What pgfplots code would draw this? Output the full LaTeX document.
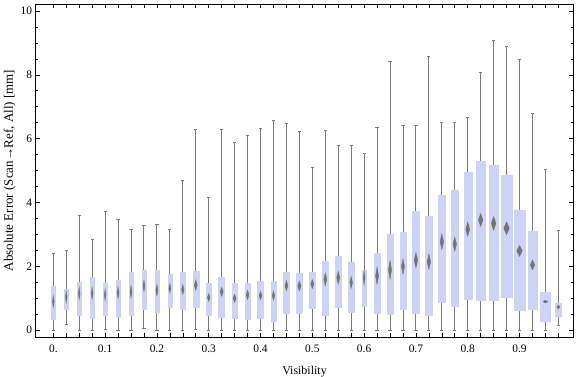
\documentclass[border=0pt]{standalone}
\usepackage{fontspec}
\setmainfont{Liberation Serif}
\usepackage{pgfplots}
\pgfplotsset{compat=1.18}
\usepgfplotslibrary{statistics}
\definecolor{boxc}{RGB}{204,211,245}
\definecolor{whc}{RGB}{122,122,122}
\definecolor{medc}{RGB}{115,115,115}
\pgfplotsset{boxplot/notch/.initial=0.1}
\newcommand{\bx}[8]{\addplot[boxplot prepared={draw position=#1, box extend=#2, lower whisker=#3, lower quartile=#4, median=#5, upper quartile=#6, upper whisker=#7}, boxplot/notch=#8] coordinates {};}
\begin{document}
\begin{tikzpicture}
\begin{axis}[
  scale only axis, width=538bp, height=333bp,
  xmin=-0.0344, xmax=1.0042, ymin=-0.219, ymax=10.22,
  axis line style={line width=0.8bp},
  tick align=inside, tick style={black, line width=0.6bp},
  major tick length=4.5bp, minor tick length=2.5bp,
  xtick={0,0.025,0.05,0.075,0.1,0.125,0.15,0.175,0.2,0.225,0.25,0.275,0.3,0.325,0.35,0.375,0.4,0.425,0.45,0.475,0.5,0.525,0.55,0.575,0.6,0.625,0.65,0.675,0.7,0.725,0.75,0.775,0.8,0.825,0.85,0.875,0.9,0.925,0.95,0.975},
  xticklabels={0.,,,,0.1,,,,0.2,,,,0.3,,,,0.4,,,,0.5,,,,0.6,,,,0.7,,,,0.8,,,,0.9,,,},
  ytick={0,2,4,6,8,10}, minor y tick num=3,
  /pgf/number format/assume math mode=true,
  tick label style={font=\fontsize{11.5}{13}\selectfont},
  xticklabel style={yshift=-4bp},
  xlabel style={font=\fontsize{12}{14}\selectfont, yshift=-7bp},
  ylabel style={font=\fontsize{13}{15}\selectfont, yshift=-2bp},
  xlabel={Visibility},
  ylabel={Absolute Error (Scan→Ref, All) [mm]},
  boxplot/draw direction=y,
  boxplot/whisker extend=0.0062,
  boxplot/draw/box/.code={\fill[boxc] (boxplot box cs:\pgfplotsboxplotvalue{lower quartile},0) rectangle (boxplot box cs:\pgfplotsboxplotvalue{upper quartile},1);},
  boxplot/draw/lower whisker/.code={\draw[whc, line width=0.95bp] (boxplot box cs:\pgfplotsboxplotvalue{lower quartile},0.5) -- (boxplot box cs:\pgfplotsboxplotvalue{lower whisker},0.5);
    \draw[whc, line width=0.95bp] (boxplot whisker cs:\pgfplotsboxplotvalue{lower whisker},0) -- (boxplot whisker cs:\pgfplotsboxplotvalue{lower whisker},1);},
  boxplot/draw/upper whisker/.code={\draw[whc, line width=0.95bp] (boxplot box cs:\pgfplotsboxplotvalue{upper quartile},0.5) -- (boxplot box cs:\pgfplotsboxplotvalue{upper whisker},0.5);
    \draw[whc, line width=0.95bp] (boxplot whisker cs:\pgfplotsboxplotvalue{upper whisker},0) -- (boxplot whisker cs:\pgfplotsboxplotvalue{upper whisker},1);},
  boxplot/draw/median/.code={%
    \pgfmathsetmacro\mlo{\pgfplotsboxplotvalue{median}-\pgfkeysvalueof{/pgfplots/boxplot/notch}}%
    \pgfmathsetmacro\mhi{\pgfplotsboxplotvalue{median}+\pgfkeysvalueof{/pgfplots/boxplot/notch}}%
    \fill[medc] (boxplot box cs:\mlo,0.5) -- (boxplot box cs:\pgfplotsboxplotvalue{median},0.25) -- (boxplot box cs:\mhi,0.5) -- (boxplot box cs:\pgfplotsboxplotvalue{median},0.75) -- cycle;},
]
\bx{0}{0.0064}{0}{0.33}{0.89}{1.38}{2.40}{0.18}
\bx{0.025}{0.0064}{0.16}{0.65}{1.04}{1.29}{2.48}{0.18}
\bx{0.05}{0.0064}{0}{0.46}{1.15}{1.50}{3.59}{0.19}
\bx{0.075}{0.0071}{0}{0.38}{1.15}{1.64}{2.85}{0.19}
\bx{0.1}{0.0064}{0.02}{0.46}{1.10}{1.47}{3.73}{0.18}
\bx{0.125}{0.0077}{0}{0.39}{1.17}{1.57}{3.45}{0.18}
\bx{0.15}{0.0071}{0}{0.48}{1.20}{1.82}{3.16}{0.19}
\bx{0.175}{0.0077}{0.05}{0.64}{1.39}{1.87}{3.28}{0.18}
\bx{0.2}{0.0083}{0}{0.57}{1.25}{1.88}{3.31}{0.18}
\bx{0.225}{0.0077}{0}{0.73}{1.31}{1.76}{3.16}{0.15}
\bx{0.25}{0.0097}{0}{0.64}{1.27}{1.82}{4.69}{0.15}
\bx{0.275}{0.0116}{0.02}{0.70}{1.41}{1.85}{6.30}{0.16}
\bx{0.3}{0.0102}{0}{0.46}{1.02}{1.46}{4.16}{0.12}
\bx{0.325}{0.0116}{0}{0.40}{1.20}{1.64}{6.30}{0.14}
\bx{0.35}{0.0110}{0}{0.36}{0.99}{1.46}{5.88}{0.13}
\bx{0.375}{0.0102}{0}{0.33}{1.10}{1.46}{6.10}{0.15}
\bx{0.4}{0.0110}{0}{0.37}{1.08}{1.53}{6.32}{0.13}
\bx{0.425}{0.0097}{0}{0.29}{1.08}{1.54}{6.57}{0.14}
\bx{0.45}{0.0110}{0}{0.52}{1.39}{1.81}{6.48}{0.16}
\bx{0.475}{0.0122}{0}{0.52}{1.38}{1.78}{6.23}{0.15}
\bx{0.5}{0.0116}{0}{0.67}{1.44}{1.81}{5.10}{0.14}
\bx{0.525}{0.0116}{0}{0.48}{1.59}{2.16}{6.26}{0.20}
\bx{0.55}{0.0116}{0}{0.71}{1.64}{2.32}{5.79}{0.20}
\bx{0.575}{0.0102}{0}{0.55}{1.49}{2.13}{5.79}{0.19}
\bx{0.6}{0.0071}{0}{0.76}{1.64}{1.88}{5.54}{0.23}
\bx{0.625}{0.0116}{0}{0.54}{1.70}{2.41}{6.35}{0.27}
\bx{0.65}{0.0120}{0}{0.51}{1.89}{3.01}{8.42}{0.29}
\bx{0.675}{0.0116}{0}{0.64}{1.99}{3.08}{6.42}{0.24}
\bx{0.7}{0.0135}{0}{0.54}{2.19}{3.73}{6.42}{0.24}
\bx{0.725}{0.0135}{0}{0.45}{2.14}{3.57}{8.58}{0.24}
\bx{0.75}{0.0135}{0}{0.87}{2.77}{4.23}{6.51}{0.24}
\bx{0.775}{0.0135}{0}{0.76}{2.69}{4.39}{6.51}{0.22}
\bx{0.8}{0.0154}{0}{0.96}{3.16}{4.95}{6.67}{0.22}
\bx{0.825}{0.0174}{0}{0.95}{3.45}{5.30}{8.06}{0.20}
\bx{0.85}{0.0174}{0}{0.92}{3.34}{5.17}{9.09}{0.21}
\bx{0.875}{0.0212}{0}{1.04}{3.19}{4.86}{8.89}{0.20}
\bx{0.9}{0.0212}{0}{0.61}{2.48}{3.76}{8.48}{0.17}
\bx{0.925}{0.0174}{0}{0.64}{2.04}{3.11}{6.79}{0.15}
\bx{0.95}{0.0187}{0}{0.29}{0.89}{1.19}{5.04}{0.04}
\bx{0.975}{0.0116}{0.13}{0.42}{0.72}{0.85}{3.13}{0.06}
\end{axis}
\pgfresetboundingbox
\path[use as bounding box] ([shift={(-35.5bp,-40bp)}]current axis.south west) rectangle ([shift={(2.5bp,4bp)}]current axis.north east);
\end{tikzpicture}
\end{document}
